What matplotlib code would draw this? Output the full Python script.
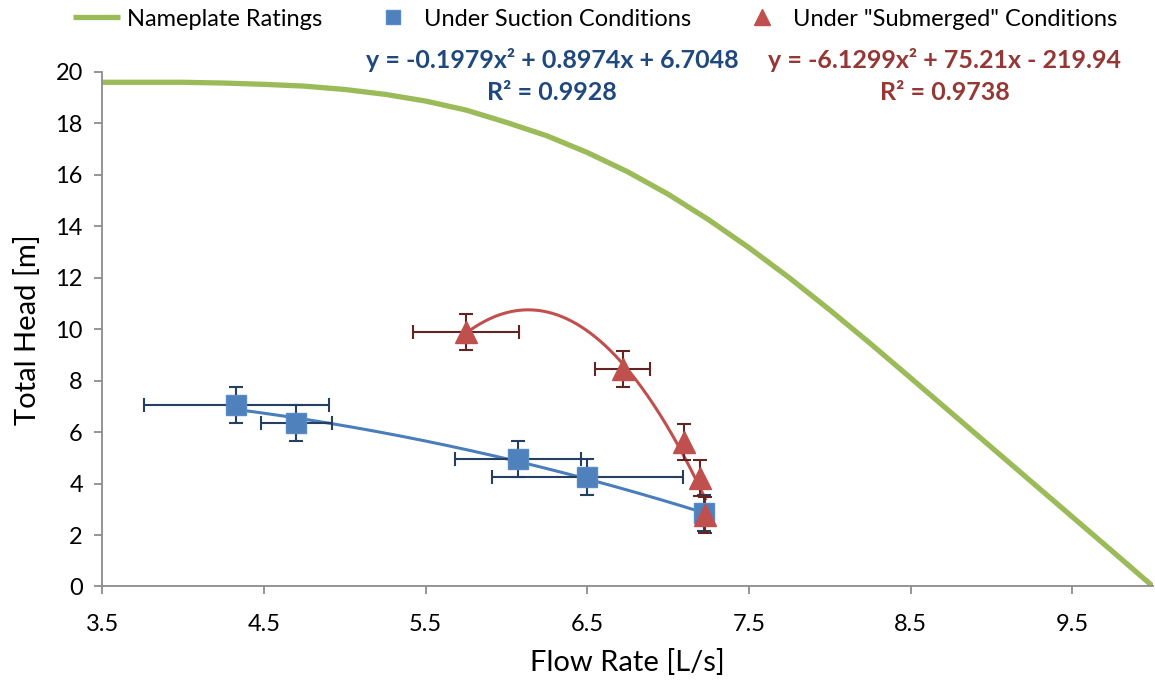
import numpy as np
import matplotlib
matplotlib.use("Agg")
import matplotlib.pyplot as plt

plt.rcParams['font.family'] = ['Lato', 'DejaVu Sans']

# nameplate curve
name_q = [3.5, 3.75, 4.0, 4.25, 4.5, 4.75, 5.0, 5.25, 5.5, 5.75, 6.0, 6.25, 6.5, 6.75,
          7.0, 7.25, 7.5, 7.75, 8.0, 8.25, 8.5, 8.75, 9.0, 9.25, 9.5, 9.75, 10.0]
name_h = [19.6, 19.6, 19.6, 19.57, 19.52, 19.45, 19.32, 19.13, 18.87, 18.52, 18.04, 17.52, 16.87, 16.12,
          15.25, 14.26, 13.17, 12.0, 10.75, 9.45, 8.11, 6.76, 5.41, 4.06, 2.71, 1.36, 0.0]

# suction test points
suc_q = [4.33, 4.70, 6.07, 6.50, 7.22]
suc_h = [7.06, 6.35, 4.95, 4.25, 2.85]
suc_qerr = [0.57, 0.22, 0.39, 0.59, 0.0]
suc_herr = [0.7, 0.7, 0.7, 0.7, 0.7]

# submerged test points
sub_q = [5.75, 6.72, 7.10, 7.20, 7.23]
sub_h = [9.88, 8.45, 5.63, 4.21, 2.78]
sub_qerr = [0.33, 0.17, 0.0, 0.0, 0.0]
sub_herr = [0.7, 0.7, 0.7, 0.7, 0.7]

# trendline coefficients (from the chart's equations)
suc_fit = [-0.1979, 0.8974, 6.7048]
sub_fit = [-6.1299, 75.21, -219.94]

green = '#9BBB59'
blue = '#4F81BD'
red = '#C0504D'

fig = plt.figure(figsize=(11.55, 6.83), dpi=100)
ax = fig.add_axes([0.0886, 0.1413, 0.9097, 0.7533])

ax.plot(name_q, name_h, color=green, lw=3.8, label='Nameplate Ratings', solid_capstyle='butt',
        solid_joinstyle='round', zorder=2)

xs = np.linspace(min(suc_q), max(suc_q), 200)
ax.plot(xs, np.polyval(suc_fit, xs), color='#4A7EBB', lw=2.2, zorder=3)
xr = np.linspace(min(sub_q), max(sub_q), 200)
ax.plot(xr, np.polyval(sub_fit, xr), color=red, lw=2.2, zorder=3)

ax.errorbar(suc_q, suc_h, xerr=suc_qerr, yerr=suc_herr, fmt='none', ecolor='#243F60',
            elinewidth=1.5, capsize=5, capthick=1.5, zorder=4)
ax.errorbar(sub_q, sub_h, xerr=sub_qerr, yerr=sub_herr, fmt='none', ecolor='#632523',
            elinewidth=1.5, capsize=5, capthick=1.5, zorder=4)

ax.plot(suc_q, suc_h, 's', color=blue, ms=15, mec='#5A8AC6', label='Under Suction Conditions', zorder=5)
ax.plot(sub_q, sub_h, '^', color=red, ms=16, mec=red, label='Under "Submerged" Conditions', zorder=6)

ax.set_xlim(3.5, 10)
ax.set_ylim(0, 20)
ax.set_xticks([3.5, 4.5, 5.5, 6.5, 7.5, 8.5, 9.5])
ax.set_xticklabels(['3.5', '4.5', '5.5', '6.5', '7.5', '8.5', '9.5'])
ax.set_yticks(range(0, 21, 2))

for s in ['top', 'right']:
    ax.spines[s].set_visible(False)
for s in ['left', 'bottom']:
    ax.spines[s].set_color('#8C8C8C')
    ax.spines[s].set_linewidth(1.3)
ax.tick_params(axis='both', colors='#8C8C8C', length=6, width=1.3, labelsize=17, labelcolor='black')
ax.tick_params(axis='x', pad=14)
ax.tick_params(axis='y', pad=8)

ax.set_xlabel('Flow Rate [L/s]', fontsize=21, labelpad=10)
ax.set_ylabel('Total Head [m]', fontsize=21, labelpad=10)

fig.legend(loc='center', bbox_to_anchor=(0.515, 0.972), ncol=3, frameon=False, fontsize=17,
           handlelength=2.0, handletextpad=0.3, columnspacing=2.0, markerscale=0.7)

fig.text(0.478, 0.912, 'y = -0.1979x² + 0.8974x + 6.7048', color='#1F497D', fontsize=18,
         fontweight='bold', ha='center', va='center')
fig.text(0.478, 0.865, 'R² = 0.9928', color='#1F497D', fontsize=18,
         fontweight='bold', ha='center', va='center')
fig.text(0.818, 0.912, 'y = -6.1299x² + 75.21x - 219.94', color='#953735', fontsize=18,
         fontweight='bold', ha='center', va='center')
fig.text(0.818, 0.865, 'R² = 0.9738', color='#953735', fontsize=18,
         fontweight='bold', ha='center', va='center')

fig.savefig('out.png', dpi=100)
